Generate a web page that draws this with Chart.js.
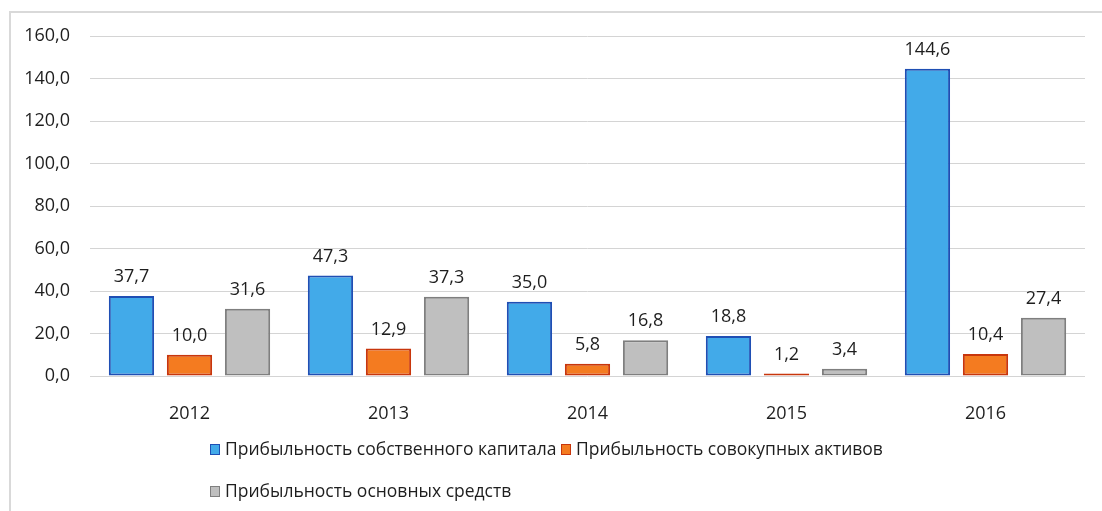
<!DOCTYPE html>
<html>
<head>
<meta charset="utf-8">
<script src="https://cdn.jsdelivr.net/npm/chart.js@4"></script>
<style>
  html, body { margin: 0; padding: 0; background: #fff; }
  #wrap { position: relative; width: 1102px; height: 511px; overflow: hidden; }
  #frame { position: absolute; left: 9px; top: 11px; width: 1200px; height: 600px;
           border: 2px solid #d9d9d9; box-sizing: border-box; }
  #chart { position: absolute; left: 0; top: 0; }
  .legend { position: absolute; font-family: "Open Sans", sans-serif; font-size: 17.5px;
            color: #1e1e1e; white-space: nowrap; }
  .legend span.box { display: inline-block; width: 8px; height: 9px; margin-right: 5px;
                     border: 1px solid; vertical-align: 0px; }
</style>
</head>
<body>
<div id="wrap">
  <div id="frame"></div>
  <canvas id="chart" width="1102" height="511"></canvas>
  <div class="legend" id="leg1" style="left:210px; top:436px;"></div>
  <div class="legend" id="leg2" style="left:210px; top:478px;"></div>
</div>
<script>
(function () {
	'use strict';

	const years = ['2012', '2013', '2014', '2015', '2016'];
	const equityReturn = [37.7, 47.3, 35.0, 18.8, 144.6];
	const assetsReturn = [10.0, 12.9, 5.8, 1.2, 10.4];
	const fixedAssetsReturn = [31.6, 37.3, 16.8, 3.4, 27.4];
	const seriesNames = [
		'Прибыльность собственного капитала',
		'Прибыльность совокупных активов',
		'Прибыльность основных средств'
	];

	const fills = ['#42aae9', '#f47b20', '#bfbfbf'];
	const borders = ['#1f4fb4', '#c8360c', '#7f7f7f'];

	const fmt = v => v.toFixed(1).replace('.', ',');

	// value labels above each bar
	const barLabels = {
		id: 'barLabels',
		afterDatasetsDraw(chart) {
			const c = chart.ctx;
			c.save();
			c.font = '18px "Open Sans", sans-serif';
			c.fillStyle = '#1e1e1e';
			c.textAlign = 'center';
			c.textBaseline = 'bottom';
			chart.data.datasets.forEach((ds, i) => {
				chart.getDatasetMeta(i).data.forEach((bar, j) => {
					c.fillText(fmt(ds.data[j]), bar.x, bar.y - 10);
				});
			});
			c.restore();
		}
	};

	const datasets = [equityReturn, assetsReturn, fixedAssetsReturn].map((d, i) => ({
		label: seriesNames[i],
		data: d,
		backgroundColor: fills[i],
		borderColor: borders[i],
		borderWidth: 2,
		borderSkipped: false
	}));

	new Chart(document.getElementById('chart'), {
		type: 'bar',
		data: { labels: years, datasets: datasets },
		options: {
			responsive: false,
			animation: false,
			categoryPercentage: 0.875,
			barPercentage: 0.78,
			layout: { padding: { top: 36, right: 17, left: 0, bottom: 0 } },
			plugins: { legend: { display: false }, tooltip: { enabled: false } },
			scales: {
				x: {
					grid: { display: false },
					border: { display: false },
					ticks: { color: '#1e1e1e', padding: 19, font: { family: 'Open Sans', size: 18 } },
					afterFit(s) { s.height = 135; }
				},
				y: {
					min: 0,
					max: 160,
					grid: { color: '#d4d4d4', lineWidth: 1, drawTicks: false },
					border: { display: false },
					ticks: {
						stepSize: 20,
						color: '#1e1e1e',
						padding: 20,
						font: { family: 'Open Sans', size: 18 },
						callback: v => fmt(v)
					},
					afterFit(s) { s.width = 90; }
				}
			}
		},
		plugins: [barLabels]
	});

	function legendItem(i) {
		return '<span class="box" style="background:' + fills[i] + ';border-color:' + borders[i] +
			'"></span>' + seriesNames[i];
	}
	document.getElementById('leg1').innerHTML = legendItem(0) + ' ' + legendItem(1);
	document.getElementById('leg2').innerHTML = legendItem(2);
})();
</script>
</body>
</html>
